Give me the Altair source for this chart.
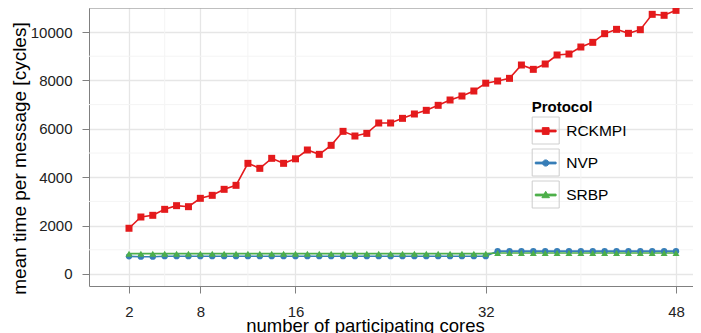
import altair as alt
import pandas as pd

# ---- data ----
cores = list(range(2, 49))
rckmpi = [1890, 2355, 2425, 2672, 2824, 2782, 3127, 3251, 3499, 3664,
          4573, 4366, 4780, 4573, 4760, 5124, 4945, 5317, 5895, 5702,
          5812, 6240, 6240, 6432, 6612, 6763, 6970, 7190, 7355, 7562,
          7885, 7975, 8085, 8636, 8457, 8678, 9050, 9091, 9380, 9573,
          9931, 10110, 9945, 10096, 10730, 10690, 10895]
nvp = [730, 715, 715] + [735] * 28 + [945] * 16
srbp = [840] * 31 + [865] * 16
protocols = ["RCKMPI", "NVP", "SRBP"]

x_major = [2, 8, 16, 32, 48]
x_minor = [5, 12, 24, 40]
y_major = [0, 2000, 4000, 6000, 8000, 10000]
y_minor = [1000, 3000, 5000, 7000, 9000]

# ---- styles ----
colors = ["#E41A1C", "#377EB8", "#4DAF4A"]
point_shapes = ["square", "circle", "triangle-up"]
point_sizes = [49, 40, 49]
EXT = " M-1,-1 M1,1"  # keeps every legend symbol a full 27px box for layout
legend_paths = [
    "M-0.77,-0.065H0.77V0.065H-0.77Z M-0.25,-0.25H0.25V0.25H-0.25Z" + EXT,
    "M-0.77,-0.065H0.77V0.065H-0.77Z M-0.23,0A0.23,0.23 0 1,1 0.23,0A0.23,0.23 0 1,1 -0.23,0Z" + EXT,
    "M-0.77,-0.065H0.77V0.065H-0.77Z M0,-0.27L0.28,0.2L-0.28,0.2Z" + EXT,
]
FONT = "Liberation Sans"
BORDER = "#808080"
W, H = 604, 278

rows = []
for name, vals in zip(protocols, [rckmpi, nvp, srbp]):
    for c, v in zip(cores, vals):
        rows.append({"cores": c, "time": v, "Protocol": name})
df = pd.DataFrame(rows)

xscale = alt.Scale(domain=[-1.364, 49.43], nice=False, zero=False)
yscale = alt.Scale(domain=[-496, 10992], nice=False, zero=False)
color_scale = alt.Scale(domain=protocols, range=colors)

x_axis = alt.Axis(values=x_major, grid=True, gridColor="#e6e6e6", gridWidth=1.3,
                  domain=True, domainColor=BORDER, domainWidth=1,
                  ticks=True, tickSize=7, tickColor=BORDER, tickWidth=1,
                  labelFont=FONT, labelFontSize=15, labelColor="#222222", labelPadding=11,
                  title="number of participating cores", titleFont=FONT, titleFontSize=18.5,
                  titleFontWeight="normal", titleColor="#000000", titleX=276, titleY=45,
                  titleAlign="center", titleBaseline="alphabetic")
y_axis = alt.Axis(values=y_major, format="d", grid=True, gridColor="#e6e6e6", gridWidth=1.3,
                  domain=True, domainColor=BORDER, domainWidth=1,
                  ticks=True, tickSize=7, tickColor=BORDER, tickWidth=1,
                  labelFont=FONT, labelFontSize=15, labelColor="#222222", labelPadding=10,
                  title="mean time per message [cycles]", titleFont=FONT, titleFontSize=19,
                  titleFontWeight="normal", titleColor="#000000", titleX=-64, titleY=150,
                  titleAngle=270, titleAlign="center", titleBaseline="alphabetic")

X = alt.X("cores:Q", scale=xscale, axis=x_axis)
Y = alt.Y("time:Q", scale=yscale, axis=y_axis)

common_leg = dict(orient="none", direction="vertical", legendX=442.7,
                  symbolSize=729, symbolStrokeWidth=1, rowPadding=0, padding=0,
                  labelFont=FONT, labelFontSize=15.5, labelColor="#000000", labelOffset=6.5)
legend_def = alt.Legend(symbolOpacity=1, legendY=92,
                        titleFont=FONT, titleFontSize=15, titleFontWeight="bold",
                        titleColor="#000000", titlePadding=2, title="Protocol", **common_leg)
box_legend = alt.Legend(symbolType="square", symbolFillColor="white",
                        symbolStrokeColor="#cccccc", symbolOpacity=1,
                        labelExpr="''", title=None, legendY=108.5, **common_leg)
C = alt.Color("Protocol:N", scale=color_scale, legend=legend_def)

base = alt.Chart(df)

boxes = (base.transform_filter("datum.cores < 0")
         .transform_calculate(key="'k' + datum.Protocol")
         .mark_point(filled=False, opacity=1, color="#cccccc")
         .encode(
             x=X, y=Y,
             strokeDash=alt.StrokeDash("key:N", scale=alt.Scale(
                 domain=["k" + p for p in protocols], range=[[1, 0], [1, 0], [1, 0]]),
                 legend=box_legend),
         ))

vminor = alt.Chart(pd.DataFrame({"cores": x_minor})).mark_rule(
    color="#f4f4f4", strokeWidth=1).encode(x=X)
hminor = alt.Chart(pd.DataFrame({"time": y_minor})).mark_rule(
    color="#f4f4f4", strokeWidth=1).encode(y=Y)

top_border = alt.Chart(pd.DataFrame({"cores": [0]})).mark_rule(
    color=BORDER, strokeWidth=1).encode(y=alt.value(0), x=alt.value(0), x2=alt.value(W))

lines = base.mark_line(strokeWidth=1.6).encode(x=X, y=Y, color=C)

point_layers = []
for p, s, sz in zip(protocols, point_shapes, point_sizes):
    point_layers.append(
        base.transform_filter(alt.datum.Protocol == p)
        .mark_point(shape=s, filled=True, size=sz, opacity=1)
        .encode(x=X, y=Y, color=C)
    )

leg = (base.transform_filter("datum.cores < 0")
       .mark_point(filled=True, opacity=1)
       .encode(
           x=X, y=Y, color=C,
           shape=alt.Shape("Protocol:N", scale=alt.Scale(domain=protocols, range=legend_paths),
                           legend=legend_def),
       ))

chart = alt.layer(boxes, vminor, hminor, top_border, lines, *point_layers, leg).properties(
    width=W, height=H,
    autosize=alt.AutoSizeParams(type="none"),
    padding={"left": 81, "top": 0, "right": 0, "bottom": 47},
).configure_view(stroke=None)

chart.save("out.html", embed_options={"renderer": "svg", "actions": False})
